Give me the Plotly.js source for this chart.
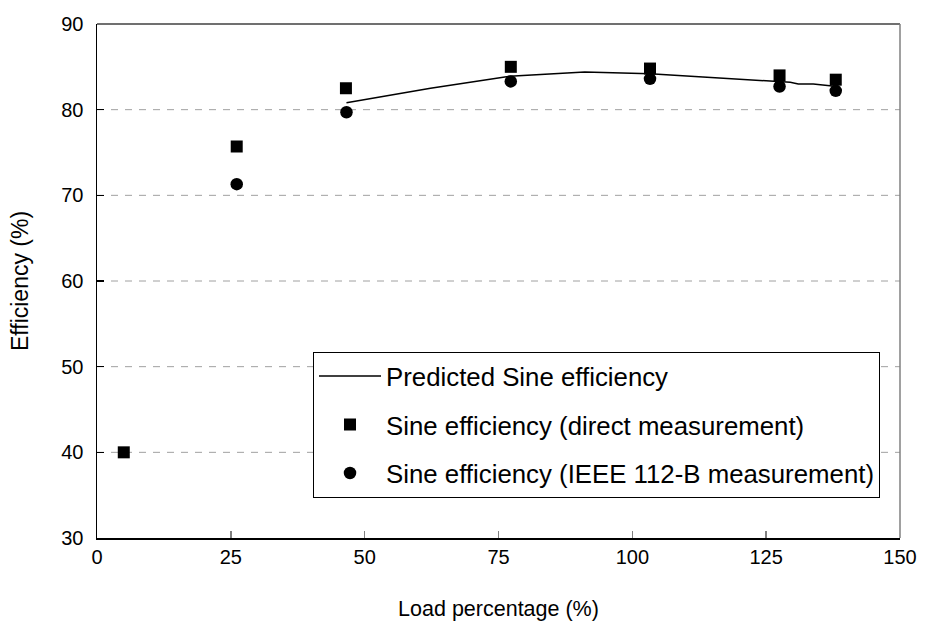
<!DOCTYPE html>
<html>
<head>
<meta charset="utf-8">
<script src="https://cdn.plot.ly/plotly-3.0.1.min.js"></script>
<style>html,body{margin:0;padding:0;background:#fff;}#chart{width:925px;height:637px;}</style>
</head>
<body>
<div id="chart"></div>
<script>
// Predicted sine efficiency curve
const predLoad = [46.6, 62.3, 77.1, 91.1, 103.3, 122.1, 126.5, 129.5, 131.0, 133.8, 136.9, 138.0];
const predEff  = [80.8, 82.5, 83.9, 84.4, 84.2, 83.5, 83.3, 83.2, 83.0, 83.0, 82.8, 82.7];
// Direct measurement
const directLoad = [5.0, 26.1, 46.5, 77.3, 103.3, 127.5, 138.0];
const directEff  = [40.0, 75.7, 82.5, 85.0, 84.8, 84.0, 83.5];
// IEEE 112-B measurement
const ieeeLoad = [26.1, 46.6, 77.3, 103.3, 127.5, 138.0];
const ieeeEff  = [71.3, 79.7, 83.3, 83.6, 82.7, 82.2];
// Axis ticks
const xTicks = [0, 25, 50, 75, 100, 125, 150];
const yTicks = [30, 40, 50, 60, 70, 80, 90];

const FONT = 'Liberation Sans, Arial, sans-serif';

const traces = [
  {x: predLoad, y: predEff, mode: 'lines', name: 'Predicted Sine efficiency',
   line: {color: '#000', width: 1.5}, legendgroup: 'a'},
  {x: directLoad, y: directEff, mode: 'markers', name: 'Sine efficiency (direct measurement)',
   marker: {symbol: 'square', size: 12, color: '#000'}, legendgroup: 'b'},
  {x: ieeeLoad, y: ieeeEff, mode: 'markers', name: 'Sine efficiency (IEEE 112-B measurement)',
   marker: {symbol: 'circle', size: 12.5, color: '#000'}, legendgroup: 'c'}
];

const layout = {
  width: 925, height: 637,
  margin: {l: 97, r: 25, t: 24, b: 98.5},
  paper_bgcolor: '#fff', plot_bgcolor: '#fff',
  showlegend: true,
  font: {family: FONT, color: '#000', size: 20},
  xaxis: {
    range: [0, 150], tickvals: xTicks, ticktext: xTicks.map(String),
    showgrid: false, zeroline: false,
    showline: true, linecolor: '#000', linewidth: 1.5,
    ticks: 'inside', ticklen: 7, tickcolor: '#808080', tickwidth: 1.5,
    tickfont: {family: FONT, size: 20},
    title: {text: 'Load percentage (%)', font: {family: FONT, size: 21.5}, standoff: 34}
  },
  yaxis: {
    range: [30, 90], tickvals: yTicks, ticktext: yTicks.map(String),
    showgrid: false, zeroline: false,
    showline: true, linecolor: '#000', linewidth: 1.5,
    ticks: 'inside', ticklen: 7, tickcolor: '#000', tickwidth: 1.5,
    tickfont: {family: FONT, size: 20}, ticklabelstandoff: 8,
    title: {text: 'Efficiency (%)', font: {family: FONT, size: 23}, standoff: 26}
  },
  shapes: [
    // dashed horizontal gridlines
    ...[40, 50, 60, 70, 80].map(v => ({type: 'line', xref: 'paper', yref: 'y', x0: 0, x1: 1, y0: v, y1: v,
      line: {color: '#a0a0a0', width: 1, dash: '7px,7px'}, layer: 'below'})),
    {type: 'line', xref: 'paper', yref: 'paper', x0: 0, x1: 1, y0: 1, y1: 1, line: {color: '#404040', width: 1.5}},
    {type: 'line', xref: 'paper', yref: 'paper', x0: 1, x1: 1, y0: 0, y1: 1, line: {color: '#808080', width: 1.5}}
  ],
  legend: {
    x: 0.269, xanchor: 'left', y: 0.3625, yanchor: 'top',
    bgcolor: '#fff', bordercolor: '#000', borderwidth: 1,
    font: {family: FONT, size: 25.8, color: '#000'},
    itemwidth: 62, tracegroupgap: 12, traceorder: 'grouped'
  }
};

Plotly.newPlot('chart', traces, layout, {displayModeBar: false, staticPlot: true});
</script>
</body>
</html>
